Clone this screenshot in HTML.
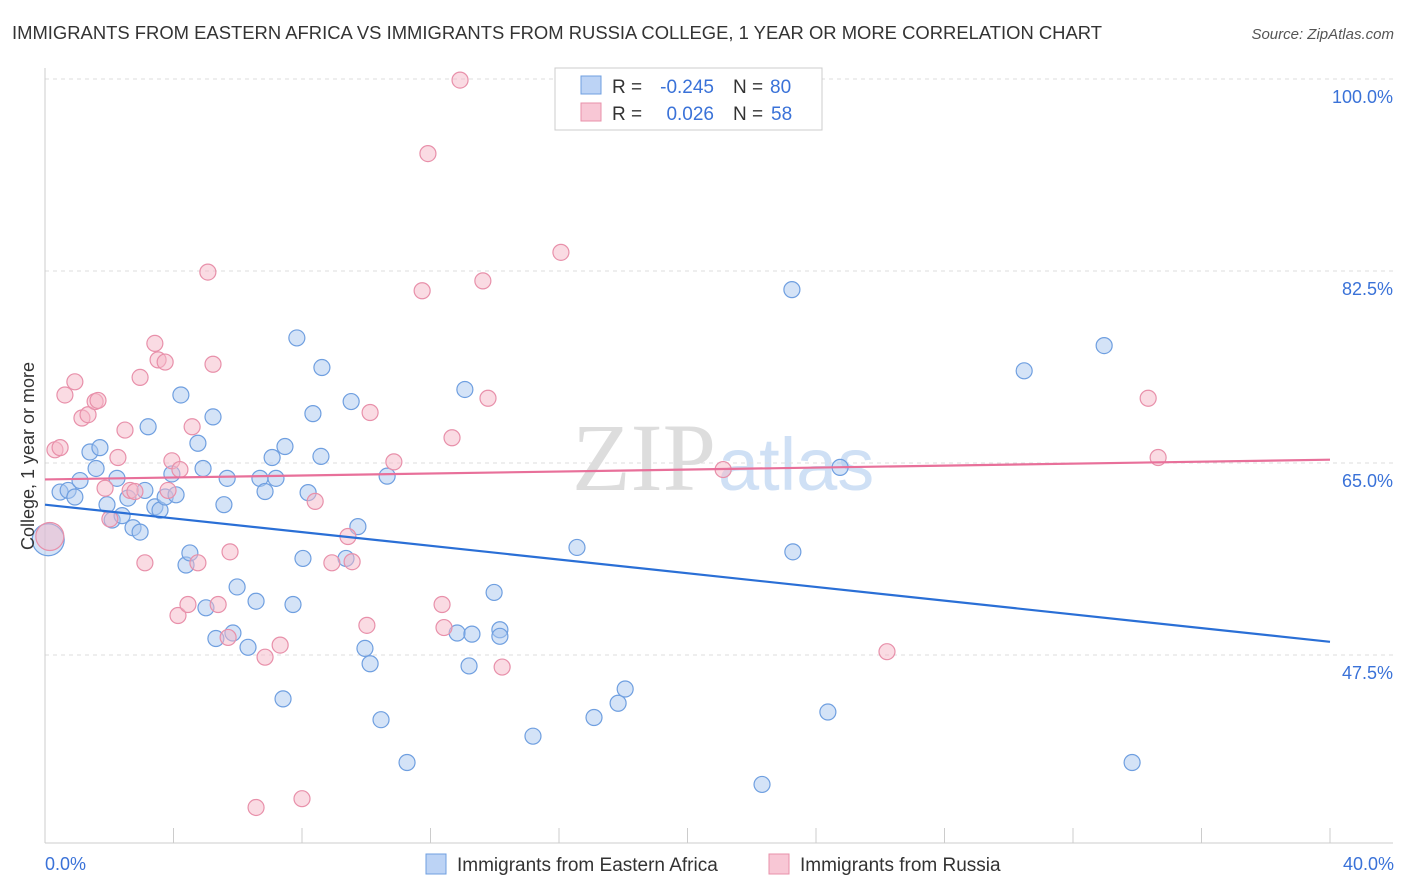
<!DOCTYPE html>
<html><head><meta charset="utf-8"><style>
body{margin:0;background:#fff;font-family:"Liberation Sans",sans-serif;}
#c{position:relative;width:1406px;height:892px;overflow:hidden}
</style></head><body>
<div id="c">
<svg id="s" width="1406" height="892" xmlns="http://www.w3.org/2000/svg">
<text x="12" y="39" font-size="18" fill="#333" textLength="1090" lengthAdjust="spacingAndGlyphs">IMMIGRANTS FROM EASTERN AFRICA VS IMMIGRANTS FROM RUSSIA COLLEGE, 1 YEAR OR MORE CORRELATION CHART</text>
<text x="1394" y="39" font-size="15" fill="#555" font-style="italic" text-anchor="end">Source: ZipAtlas.com</text>
<text x="716" y="490" font-size="96" fill="#ddd" text-anchor="end" font-family="Liberation Serif,serif">ZIP</text>
<text x="718" y="490" font-size="74" fill="#cfe0f5">atlas</text>
<g id="grid"></g><g id="pts"></g><g id="lines"></g>
<text transform="translate(34,456) rotate(-90)" font-size="18" fill="#333" text-anchor="middle">College, 1 year or more</text>
<text x="45" y="870" font-size="18" fill="#3a72d8">0.0%</text>
<text x="1394" y="870" font-size="18" fill="#3a72d8" text-anchor="end">40.0%</text>
<g>
<rect x="555" y="68" width="267" height="62" fill="#fff" stroke="#ccc"/>
<rect x="581" y="76" width="20" height="18" fill="#bcd3f5" stroke="#6f9fe0"/>
<rect x="581" y="103" width="20" height="18" fill="#f8c7d5" stroke="#e890aa"/>
<g font-size="19">
<text x="612" y="93" fill="#333">R =</text>
<text x="714" y="93" fill="#3a72d8" text-anchor="end">-0.245</text>
<text x="733" y="93" fill="#333">N =</text>
<text x="770" y="93" fill="#3a72d8">80</text>
</g>
<g font-size="19">
<text x="612" y="120" fill="#333">R =</text>
<text x="714" y="120" fill="#3a72d8" text-anchor="end">0.026</text>
<text x="733" y="120" fill="#333">N =</text>
<text x="771" y="120" fill="#3a72d8">58</text>
</g>
</g>
<rect x="426" y="854" width="20" height="20" fill="#bcd3f5" stroke="#6f9fe0"/>
<text x="457" y="871" font-size="19" fill="#333">Immigrants from Eastern Africa</text>
<rect x="769" y="854" width="20" height="20" fill="#f8c7d5" stroke="#e890aa"/>
<text x="800" y="871" font-size="19" fill="#333">Immigrants from Russia</text>
</svg></div>
<script>
const yTicks=[100,82.5,65,47.5];
const yTickLabels=["100.0%","82.5%","65.0%","47.5%"];
const blueX=[0.47,0.72,0.93,1.09,1.40,1.59,1.71,1.93,2.09,2.24,2.40,2.58,2.74,2.96,3.11,3.21,3.42,3.58,3.74,3.95,4.08,4.23,4.39,4.51,4.76,4.92,5.01,5.23,5.32,5.57,5.67,5.85,5.98,6.32,6.57,6.69,6.85,7.07,7.19,7.41,7.47,7.72,7.84,8.03,8.19,8.34,8.59,8.62,9.37,9.53,9.74,9.96,10.12,10.46,10.65,11.27,12.83,13.07,13.20,13.29,13.98,14.16,14.16,15.19,16.56,17.09,17.84,18.06,22.32,23.25,23.28,24.37,24.75,30.48,32.97,33.84];
const blueY=[62.35,62.5,61.9,63.4,66.0,64.5,66.4,61.2,59.8,63.6,60.2,61.8,59.1,58.7,62.5,68.3,61.0,60.7,61.9,64.0,62.1,71.2,55.7,56.8,66.8,64.5,51.8,69.2,49.0,61.2,63.6,49.5,53.7,48.2,52.4,63.6,62.4,65.5,63.6,43.5,66.5,52.1,76.4,56.3,62.3,69.5,65.6,73.7,56.3,70.6,59.2,48.1,46.7,41.6,63.8,37.7,49.5,71.7,46.5,49.4,53.2,49.8,49.2,40.1,57.3,41.8,43.1,44.4,35.7,80.8,56.9,42.3,64.6,73.4,75.7,37.7];
const pinkX=[0.31,0.47,0.62,0.93,1.15,1.34,1.56,1.65,1.87,2.02,2.27,2.49,2.65,2.80,2.96,3.11,3.42,3.52,3.74,3.83,3.95,4.14,4.20,4.45,4.58,4.76,5.07,5.23,5.39,5.70,5.76,6.57,6.85,7.32,8.00,8.41,8.93,9.43,9.56,10.02,10.12,10.86,11.74,11.92,12.36,12.42,12.67,12.92,13.63,13.79,14.23,16.06,21.11,26.21,34.34,34.65];
const pinkY=[66.2,66.4,71.2,72.4,69.1,69.4,70.6,70.7,62.7,59.9,65.5,68.0,62.5,62.4,72.8,55.9,75.9,74.4,74.2,62.5,65.2,51.1,64.4,52.1,68.3,55.9,82.4,74.0,52.1,49.1,56.9,33.6,47.3,48.4,34.4,61.5,55.9,58.3,56.0,50.2,69.6,65.1,80.7,93.2,52.1,50.0,67.3,99.9,81.6,70.9,46.4,84.2,64.4,47.8,70.9,65.5];
const bigBlue=[0.1,58.0];
const bigPink=[0.15,58.3];
const blueLine=[61.2,48.7];
const pinkLine=[63.5,65.3];
const NS="http://www.w3.org/2000/svg";
const X=v=>45+v/40*1285;
const Y=v=>79+(100-v)*10.971;
function mk(t,a,p){const e=document.createElementNS(NS,t);for(const k in a)e.setAttribute(k,a[k]);p.appendChild(e);return e;}
const grid=document.getElementById('grid');
yTicks.forEach((t,i)=>{
 const l=mk('line',{x1:45,x2:1393,y1:Y(t),y2:Y(t),stroke:'#ddd','stroke-dasharray':'4,4'},grid);
 
 
 const tx=mk('text',{x:1393,y:Y(t)+24,'font-size':18,fill:'#3a72d8','text-anchor':'end'},grid);
 tx.textContent=yTickLabels[i];
 
 
});
const ax=mk('line',{x1:45,x2:45,y1:68,y2:843,stroke:'#ccc'},grid);


const bx=mk('line',{x1:45,x2:1393,y1:843,y2:843,stroke:'#ccc'},grid);


for(let i=1;i<=10;i++){
 const t=mk('line',{x1:X(i*4),x2:X(i*4),y1:828,y2:843,stroke:'#ccc'},grid);
 
 
}
const pts=document.getElementById('pts');
function dot(x,y,r,fill,stroke,name){
 const c=mk('circle',{cx:X(x),cy:Y(y),r:r,fill:fill,'fill-opacity':0.5,stroke:stroke,'stroke-width':1.2},pts);
 
 
}
blueX.forEach((x,i)=>dot(x,blueY[i],8,'#a9c8f0','#6f9fe0','point-eastern-africa'));
pinkX.forEach((x,i)=>dot(x,pinkY[i],8,'#f5b8c8','#e890aa','point-russia'));
dot(bigBlue[0],bigBlue[1],16,'#a9c8f0','#6f9fe0','point-eastern-africa-large');
dot(bigPink[0],bigPink[1],14,'#f5b8c8','#e890aa','point-russia-large');
const lines=document.getElementById('lines');
const bl=mk('line',{x1:X(0),y1:Y(blueLine[0]),x2:X(40),y2:Y(blueLine[1]),stroke:'#2a6fd6','stroke-width':2.2},lines);


const pl=mk('line',{x1:X(0),y1:Y(pinkLine[0]),x2:X(40),y2:Y(pinkLine[1]),stroke:'#e8709a','stroke-width':2.2},lines);


</script>
</body></html>
